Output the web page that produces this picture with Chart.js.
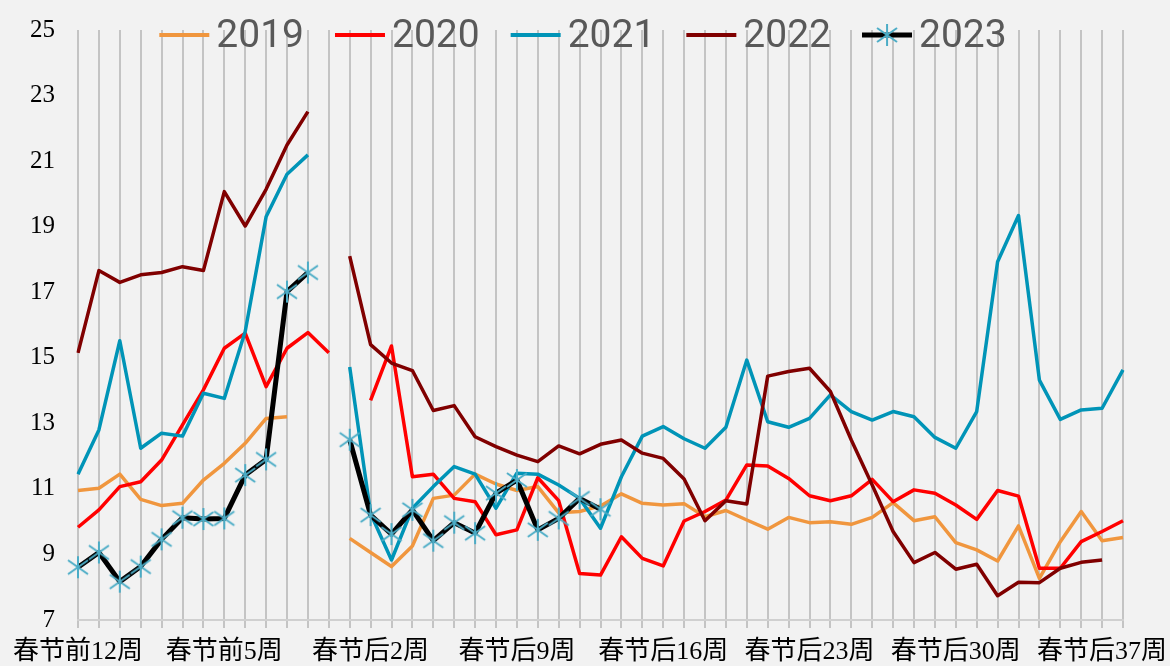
<!DOCTYPE html>
<html>
<head>
<meta charset="utf-8">
<script src="https://cdn.jsdelivr.net/npm/chart.js@4.4.1/dist/chart.umd.min.js"></script>
<style>
  html, body { margin: 0; padding: 0; background: #f2f2f2; }
</style>
</head>
<body>
<canvas id="line-chart" width="1170" height="666"></canvas>
<script>
// 周次：春节前12周 ~ 春节后38周
const weeks = [
  "春节前12周", "春节前11周", "春节前10周", "春节前9周", "春节前8周", "春节前7周",
  "春节前6周", "春节前5周", "春节前4周", "春节前3周", "春节前2周", "春节前1周",
  "春节当周",
  "春节后1周", "春节后2周", "春节后3周", "春节后4周", "春节后5周", "春节后6周",
  "春节后7周", "春节后8周", "春节后9周", "春节后10周", "春节后11周", "春节后12周",
  "春节后13周", "春节后14周", "春节后15周", "春节后16周", "春节后17周", "春节后18周",
  "春节后19周", "春节后20周", "春节后21周", "春节后22周", "春节后23周", "春节后24周",
  "春节后25周", "春节后26周", "春节后27周", "春节后28周", "春节后29周", "春节后30周",
  "春节后31周", "春节后32周", "春节后33周", "春节后34周", "春节后35周", "春节后36周",
  "春节后37周", "春节后38周"
];

const y2019 = [10.95, 11.02, 11.45, 10.68, 10.49, 10.56, 11.27, 11.78, 12.39, 13.15, 13.2, null,
  null,
  9.49, 9.06, 8.63, 9.26, 10.71, 10.81, 11.45, 11.15, 10.95, 11.07, 10.27, 10.31,
  10.48, 10.85, 10.56, 10.51, 10.55, 10.15, 10.34, 10.05, 9.77, 10.13, 9.97, 10.0,
  9.92, 10.13, 10.58, 10.03, 10.15, 9.36, 9.14, 8.8, 9.87, 8.27, 9.39, 10.31,
  9.42, 9.52];

const y2020 = [9.83, 10.36, 11.07, 11.22, 11.88, 12.95, 14.02, 15.29, 15.75, 14.12, 15.29, 15.77,
  15.15,
  null, 13.7, 15.36, 11.37, 11.45, 10.71, 10.61, 9.6, 9.75, 11.34, 10.64, 8.42,
  8.37, 9.54, 8.88, 8.65, 10.02, 10.31, 10.66, 11.73, 11.7, 11.32, 10.79, 10.64,
  10.79, 11.29, 10.61, 10.97, 10.87, 10.51, 10.07, 10.95, 10.78, 8.58, 8.58, 9.39,
  9.7, 10.03];

const y2021 = [11.45, 12.8, 15.52, 12.24, 12.7, 12.61, 13.92, 13.76, 15.8, 19.3, 20.6, 21.19,
  null,
  14.72, 10.25, 8.83, 10.41, 11.07, 11.68, 11.45, 10.41, 11.48, 11.45, 11.12, 10.71,
  9.8, 11.37, 12.61, 12.9, 12.53, 12.24, 12.88, 14.93, 13.05, 12.88, 13.15, 13.87,
  13.36, 13.1, 13.36, 13.2, 12.57, 12.24, 13.36, 17.93, 19.34, 14.32, 13.12, 13.41,
  13.46, 14.63];

const y2022 = [15.15, 17.66, 17.3, 17.53, 17.6, 17.78, 17.66, 20.07, 19.02, 20.14, 21.49, 22.51,
  null,
  18.1, 15.4, 14.84, 14.61, 13.39, 13.54, 12.59, 12.29, 12.03, 11.83, 12.31, 12.07,
  12.36, 12.49, 12.09, 11.93, 11.3, 10.03, 10.64, 10.54, 14.44, 14.58, 14.68, 13.97,
  12.49, 11.12, 9.7, 8.75, 9.06, 8.55, 8.7, 7.74, 8.15, 8.14, 8.58, 8.76,
  8.83, null];

const y2023 = [8.61, 9.06, 8.17, 8.63, 9.46, 10.12, 10.08, 10.1, 11.42, 11.9, 17.02, 17.6,
  null,
  12.5, 10.2, 9.62, 10.36, 9.42, 9.97, 9.65, 10.87, 11.27, 9.75, 10.1, 10.71,
  10.38];

const yTicks = [7, 9, 11, 13, 15, 17, 19, 21, 23, 25];

const serifFamily = "'Times New Roman', 'Liberation Serif', 'DejaVu Serif', 'Noto Sans CJK SC', serif";

// 2023 的星号标记：竖线 + 两条斜线
function makeAsterisk(color) {
  const c = document.createElement('canvas');
  c.width = 24;
  c.height = 24;
  const g = c.getContext('2d');
  g.strokeStyle = color;
  g.lineWidth = 2;
  g.beginPath();
  g.moveTo(12, 1); g.lineTo(12, 23);
  g.moveTo(2, 5); g.lineTo(22, 19);
  g.moveTo(2, 19); g.lineTo(22, 5);
  g.stroke();
  return c;
}
const asterisk = makeAsterisk('#4BACC6');

// 画布背景
const bgFill = {
  id: 'bgFill',
  beforeDraw(chart) {
    const ctx = chart.ctx;
    ctx.save();
    ctx.fillStyle = '#f2f2f2';
    ctx.fillRect(0, 0, chart.width, chart.height);
    ctx.restore();
  }
};

// 顶部图例（压在绘图区上面）
const topLegend = {
  id: 'topLegend',
  afterDraw(chart) {
    const ctx = chart.ctx;
    const sets = chart.data.datasets;
    const lineLen = 50, gap = 7, space = 31;
    ctx.save();
    ctx.font = '39px Roboto';
    const widths = sets.map(ds => ctx.measureText(ds.label).width);
    const total = widths.reduce((a, w) => a + lineLen + gap + w, 0) + space * (sets.length - 1);
    let x = (chart.width - total) / 2 - 2;
    const y = 35;
    sets.forEach((ds, i) => {
      ctx.strokeStyle = ds.borderColor;
      ctx.lineWidth = Math.max(4, ds.borderWidth);
      ctx.beginPath();
      ctx.moveTo(x, y);
      ctx.lineTo(x + lineLen, y);
      ctx.stroke();
      if (ds.pointRadius > 0) {
        Chart.helpers.drawPoint(ctx, {
          pointStyle: ds.pointStyle,
          radius: ds.pointRadius,
          borderWidth: 0,
          rotation: 0
        }, x + lineLen / 2, y);
      }
      ctx.fillStyle = '#595959';
      ctx.textAlign = 'left';
      ctx.textBaseline = 'middle';
      ctx.fillText(ds.label, x + lineLen + gap, y + 2);
      x += lineLen + gap + widths[i] + space;
    });
    ctx.restore();
  }
};

function series(label, data, color, width, order) {
  return {
    label: label,
    data: data,
    borderColor: color,
    backgroundColor: color,
    borderWidth: width,
    borderJoinStyle: 'round',
    pointRadius: 0,
    pointHoverRadius: 0,
    tension: 0,
    spanGaps: false,
    fill: false,
    order: order
  };
}

const set2023 = series("2023", y2023, "#000000", 5, 1);
set2023.pointStyle = asterisk;
set2023.pointRadius = 11;

const lineChart = new Chart(document.getElementById("line-chart"), {
  type: 'line',
  data: {
    labels: weeks,
    datasets: [
      series("2019", y2019, "#F0963E", 3.5, 5),
      series("2020", y2020, "#FF0000", 3.5, 4),
      series("2021", y2021, "#0094B7", 3.5, 3),
      series("2022", y2022, "#800000", 3.5, 2),
      set2023
    ]
  },
  options: {
    responsive: false,
    animation: false,
    devicePixelRatio: 1,
    layout: { padding: { left: 0, top: 30, right: 47, bottom: 0 } },
    plugins: {
      legend: { display: false },
      tooltip: { enabled: false }
    },
    scales: {
      x: {
        offset: false,
        grid: {
          display: true,
          color: "#c4c4c4",
          lineWidth: 2,
          tickLength: 8
        },
        border: { display: true, color: "#d0d0d0", width: 2 },
        ticks: {
          autoSkip: false,
          maxRotation: 0,
          minRotation: 0,
          padding: 9,
          color: "#000000",
          font: { family: serifFamily, size: 26 },
          callback: function (val, index) {
            return index % 7 === 0 ? this.getLabelForValue(val) : '';
          }
        },
        afterFit: function (scale) { scale.height = 46; }
      },
      y: {
        min: 7,
        max: 25,
        grid: { display: false, drawTicks: false },
        border: { display: false },
        afterBuildTicks: function (scale) {
          scale.ticks = yTicks.map(v => ({ value: v }));
        },
        ticks: {
          padding: 23,
          color: "#000000",
          font: { family: serifFamily, size: 25 }
        },
        afterFit: function (scale) {
          scale.width = 78;
          scale.paddingTop = 0;
          scale.paddingBottom = 0;
        }
      }
    }
  },
  plugins: [bgFill, topLegend]
});
</script>
</body>
</html>
